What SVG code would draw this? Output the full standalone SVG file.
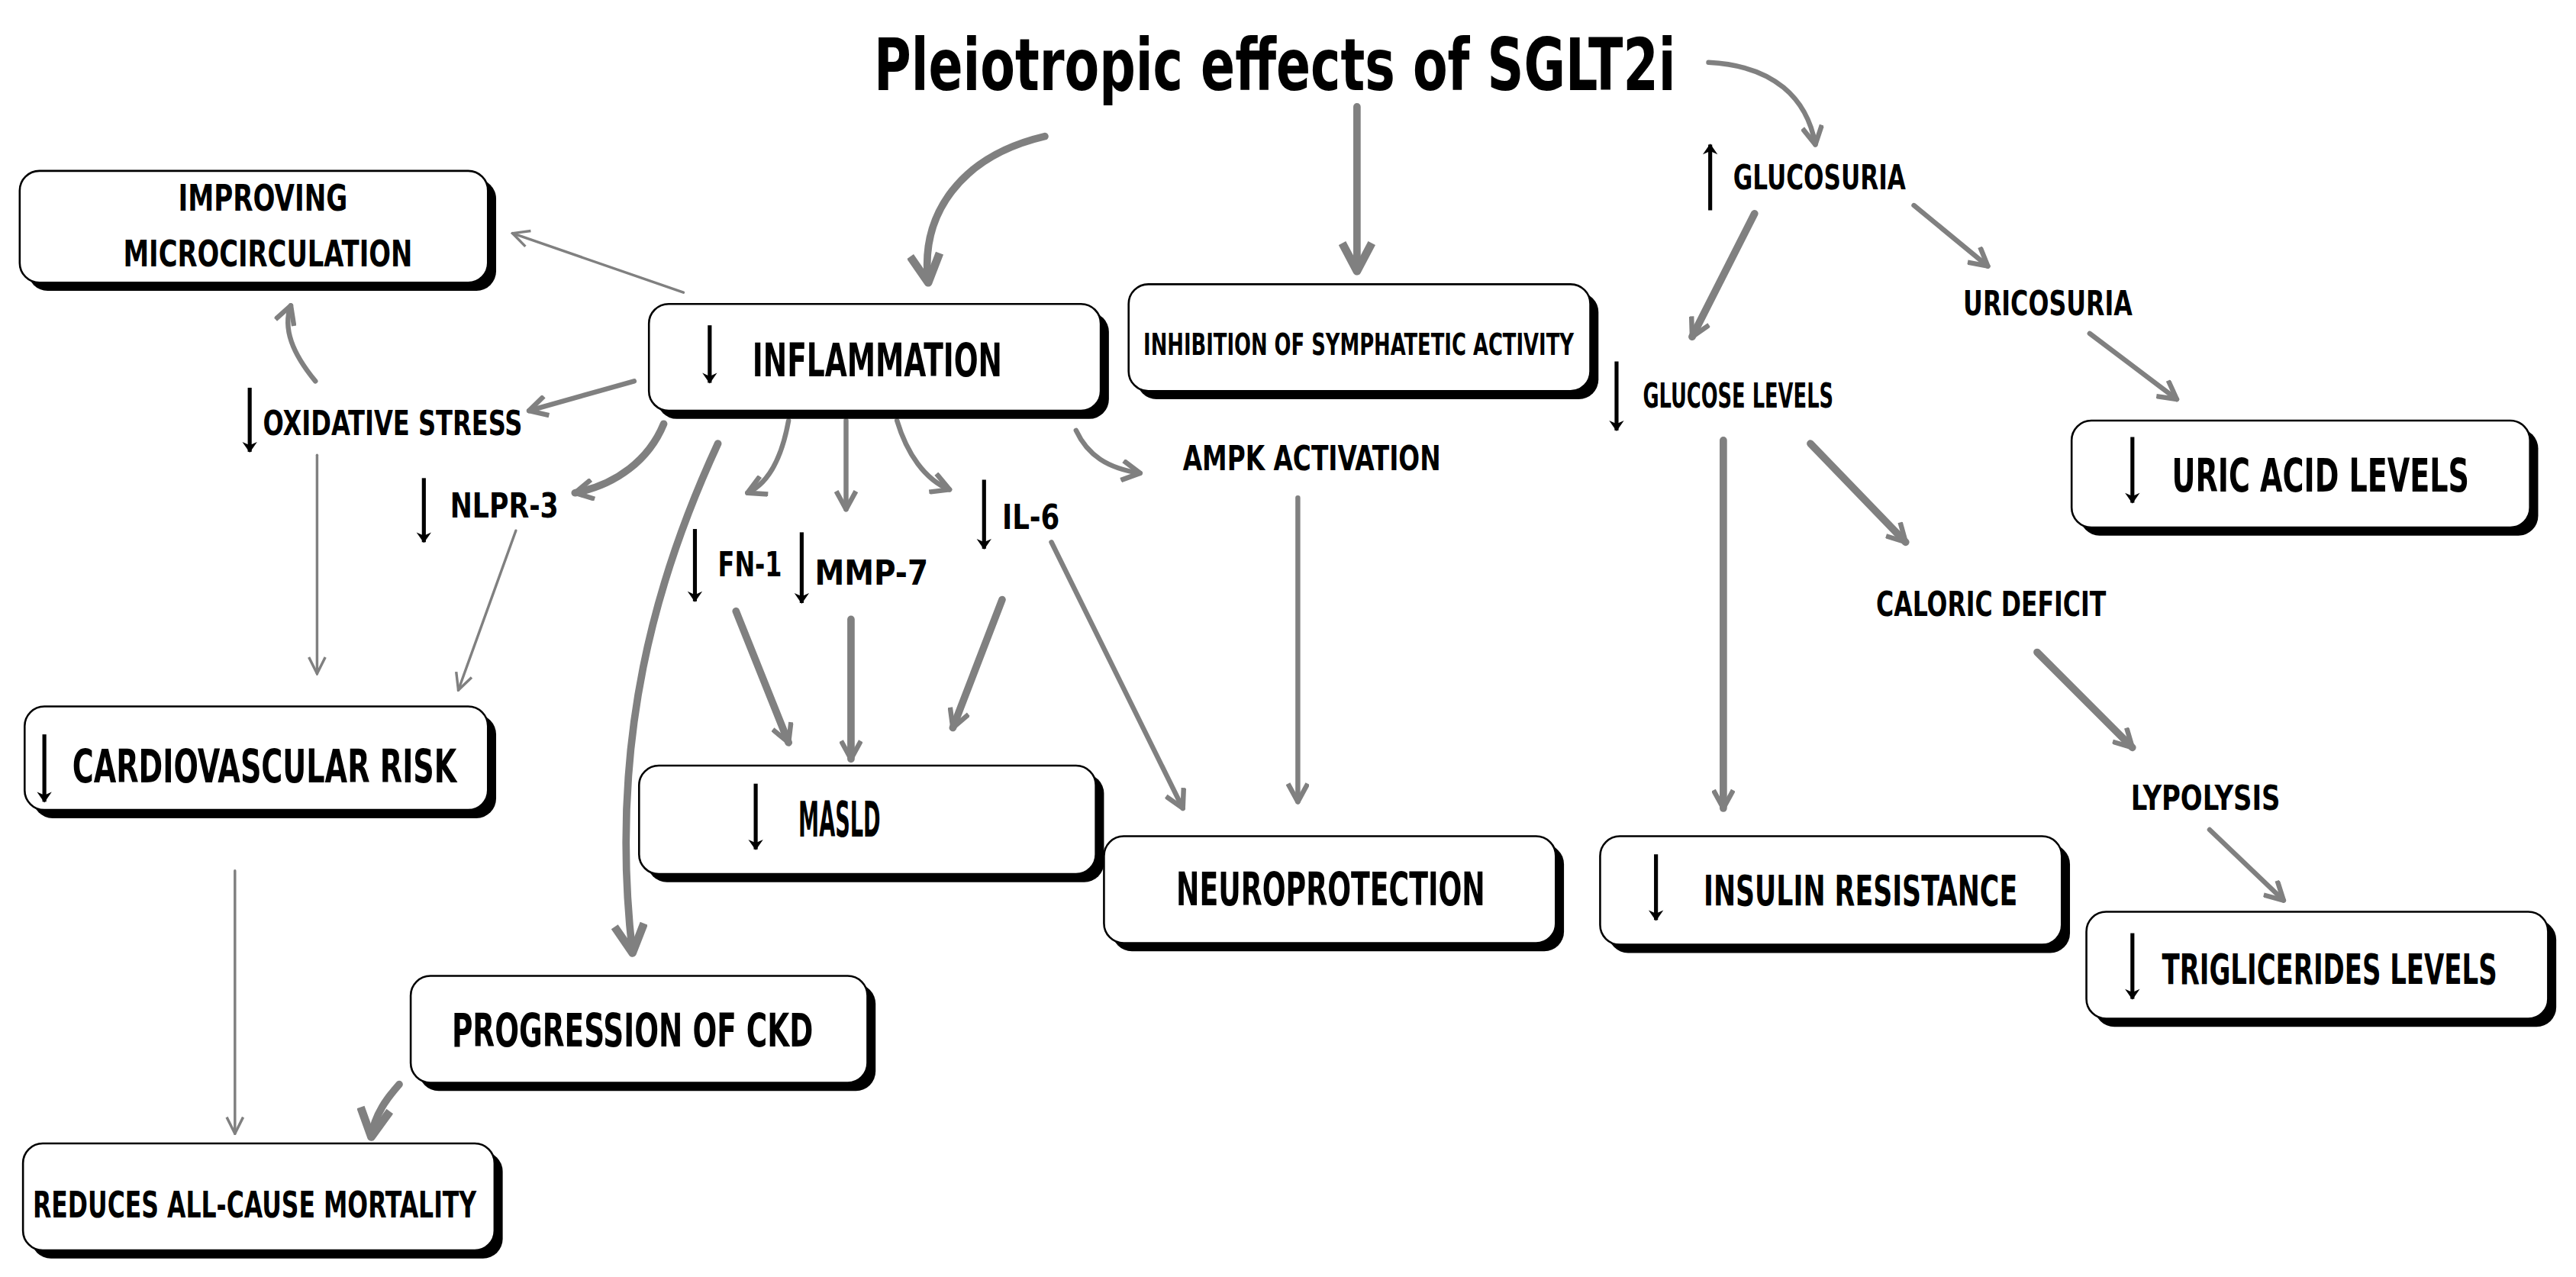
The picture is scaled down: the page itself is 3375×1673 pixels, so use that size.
<svg xmlns="http://www.w3.org/2000/svg" width="3375" height="1673" viewBox="0 0 3375 1673">
<style>
.sh{fill:#000}
.bx{fill:#fff;stroke:#000;stroke-width:1.2}
.t{font-family:"DejaVu Sans Condensed","Liberation Sans",sans-serif;font-weight:bold;fill:#000}
.c{fill:none;stroke:#808080;stroke-linecap:round}
.w1{stroke-width:1.6}
.w2{stroke-width:3}
.w3{stroke-width:4.5}
.da{stroke:#000;stroke-width:2.4;fill:none}
</style>
<defs>
<marker id="a1" viewBox="0 0 12 12" refX="11" refY="6" markerWidth="12" markerHeight="12" markerUnits="userSpaceOnUse" orient="auto"><path d="M1,1 L11,6 L1,11" fill="none" stroke="#808080" stroke-width="1.6"/></marker>
<marker id="a2" viewBox="0 0 14 14" refX="12" refY="7" markerWidth="14" markerHeight="14" markerUnits="userSpaceOnUse" orient="auto"><path d="M1,1 L12,7 L1,13" fill="none" stroke="#808080" stroke-width="3" stroke-linejoin="round"/></marker>
<marker id="a3" viewBox="0 0 22 22" refX="19" refY="11" markerWidth="22" markerHeight="22" markerUnits="userSpaceOnUse" orient="auto"><path d="M2,2 L19,11 L2,20" fill="none" stroke="#808080" stroke-width="5" stroke-linejoin="round"/></marker>
<marker id="ak" viewBox="0 0 10 10" refX="5" refY="9" markerWidth="10" markerHeight="10" markerUnits="userSpaceOnUse" orient="0"><path d="M0.5,3 L5,9.5 L9.5,3 L5,5 Z" fill="#000"/></marker>
<marker id="aku" viewBox="0 0 10 10" refX="5" refY="1" markerWidth="10" markerHeight="10" markerUnits="userSpaceOnUse" orient="0"><path d="M0.5,7 L5,0.5 L9.5,7 L5,5 Z" fill="#000"/></marker>
</defs>
<rect width="3375" height="1673" fill="#fff"/>
<g transform="scale(2.1524)">
<g id="connectors">
<path class="c w3" marker-end="url(#a3)" d="M636,83 C585,95 560,130 565,172"/>
<path class="c w3" marker-end="url(#a3)" d="M826,65 L826,165"/>
<path class="c w2" marker-end="url(#a2)" d="M1040,38 C1080,40 1100,60 1105,88"/>
<path class="c w1" marker-end="url(#a1)" d="M416,178 L312,142"/>
<path class="c w2" marker-end="url(#a2)" d="M386,232 L322,250"/>
<path class="c w2" marker-end="url(#a2)" d="M192,232 C178,215 172,200 177,186"/>
<path class="c w1" marker-end="url(#a1)" d="M193,277 L193,410"/>
<path class="c w1" marker-end="url(#a1)" d="M314,323 L279,420"/>
<path class="c w3" marker-end="url(#a2)" d="M404,258 C395,280 375,295 350,300"/>
<path class="c w3" marker-end="url(#a3)" d="M437,270 C400,350 370,450 385,580"/>
<path class="c w2" marker-end="url(#a2)" d="M480,256 C476,278 468,294 455,300"/>
<path class="c w2" marker-end="url(#a2)" d="M515,256 L515,310"/>
<path class="c w2" marker-end="url(#a2)" d="M546,256 C552,276 563,292 578,298"/>
<path class="c w2" marker-end="url(#a2)" d="M655,262 C662,277 674,285 694,288"/>
<path class="c w3" marker-end="url(#a2)" d="M448,372 L480,452"/>
<path class="c w3" marker-end="url(#a2)" d="M518,377 L518,462"/>
<path class="c w3" marker-end="url(#a2)" d="M610,365 L580,443"/>
<path class="c w2" marker-end="url(#a2)" d="M640,330 L720,492"/>
<path class="c w2" marker-end="url(#a2)" d="M790,303 L790,488"/>
<path class="c w3" marker-end="url(#a2)" d="M1068,130 L1030,205"/>
<path class="c w2" marker-end="url(#a2)" d="M1165,125 L1210,162"/>
<path class="c w2" marker-end="url(#a2)" d="M1272,203 L1325,243"/>
<path class="c w3" marker-end="url(#a2)" d="M1049,268 L1049,492"/>
<path class="c w3" marker-end="url(#a2)" d="M1102,270 L1160,330"/>
<path class="c w3" marker-end="url(#a2)" d="M1240,397 L1298,455"/>
<path class="c w2" marker-end="url(#a2)" d="M1345,505 L1390,548"/>
<path class="c w1" marker-end="url(#a1)" d="M143,530 L143,690"/>
<path class="c w3" marker-end="url(#a3)" d="M243,660 C236,668 228,678 226,692"/>
</g>
<g id="title"><text class="t" x="776" y="55" font-size="44" text-anchor="middle" textLength="488" lengthAdjust="spacingAndGlyphs">Pleiotropic effects of SGLT2i</text></g>
<g id="improving"><rect class="sh" x="17" y="109" width="285" height="68" rx="12"/><rect class="bx" x="12" y="104" width="285" height="68" rx="12"/>
<text class="t" x="160" y="128" font-size="22" text-anchor="middle" textLength="103" lengthAdjust="spacingAndGlyphs">IMPROVING</text>
<text class="t" x="163" y="162" font-size="22" text-anchor="middle" textLength="176" lengthAdjust="spacingAndGlyphs">MICROCIRCULATION</text></g>
<g id="inflammation"><rect class="sh" x="400" y="190" width="275" height="65" rx="12"/><rect class="bx" x="395" y="185" width="275" height="65" rx="12"/>
<line class="da" x1="432" y1="198" x2="432" y2="233" marker-end="url(#ak)"/>
<text class="t" x="458" y="229" font-size="28" textLength="152" lengthAdjust="spacingAndGlyphs">INFLAMMATION</text></g>
<g id="inhibition"><rect class="sh" x="692" y="178" width="281" height="65" rx="12"/><rect class="bx" x="687" y="173" width="281" height="65" rx="12"/>
<text class="t" x="827" y="216" font-size="18" text-anchor="middle" textLength="262" lengthAdjust="spacingAndGlyphs">INHIBITION OF SYMPHATETIC ACTIVITY</text></g>
<g id="cvrisk"><rect class="sh" x="20" y="435" width="282" height="63" rx="12"/><rect class="bx" x="15" y="430" width="282" height="63" rx="12"/>
<line class="da" x1="27" y1="447" x2="27" y2="488" marker-end="url(#ak)"/>
<text class="t" x="44" y="476" font-size="28" textLength="234" lengthAdjust="spacingAndGlyphs">CARDIOVASCULAR RISK</text></g>
<g id="masld"><rect class="sh" x="394" y="471" width="278" height="66" rx="12"/><rect class="bx" x="389" y="466" width="278" height="66" rx="12"/>
<line class="da" x1="460" y1="477" x2="460" y2="517" marker-end="url(#ak)"/>
<text class="t" x="486" y="509" font-size="30" textLength="50" lengthAdjust="spacingAndGlyphs">MASLD</text></g>
<g id="neuro"><rect class="sh" x="677" y="514" width="275" height="65" rx="12"/><rect class="bx" x="672" y="509" width="275" height="65" rx="12"/>
<text class="t" x="810" y="551" font-size="28" text-anchor="middle" textLength="188" lengthAdjust="spacingAndGlyphs">NEUROPROTECTION</text></g>
<g id="ckd"><rect class="sh" x="255" y="599" width="278" height="65" rx="12"/><rect class="bx" x="250" y="594" width="278" height="65" rx="12"/>
<text class="t" x="385" y="637" font-size="28" text-anchor="middle" textLength="220" lengthAdjust="spacingAndGlyphs">PROGRESSION OF CKD</text></g>
<g id="mortality"><rect class="sh" x="19" y="701" width="287" height="65" rx="12"/><rect class="bx" x="14" y="696" width="287" height="65" rx="12"/>
<text class="t" x="155" y="741" font-size="22" text-anchor="middle" textLength="270" lengthAdjust="spacingAndGlyphs">REDUCES ALL-CAUSE MORTALITY</text></g>
<g id="insulin"><rect class="sh" x="979" y="514" width="281" height="66" rx="12"/><rect class="bx" x="974" y="509" width="281" height="66" rx="12"/>
<line class="da" x1="1008" y1="520" x2="1008" y2="560" marker-end="url(#ak)"/>
<text class="t" x="1037" y="551" font-size="26" textLength="191" lengthAdjust="spacingAndGlyphs">INSULIN RESISTANCE</text></g>
<g id="uric"><rect class="sh" x="1266" y="261" width="279" height="65" rx="12"/><rect class="bx" x="1261" y="256" width="279" height="65" rx="12"/>
<line class="da" x1="1298" y1="266" x2="1298" y2="306" marker-end="url(#ak)"/>
<text class="t" x="1322" y="299" font-size="28" textLength="181" lengthAdjust="spacingAndGlyphs">URIC ACID LEVELS</text></g>
<g id="trig"><rect class="sh" x="1275" y="560" width="281" height="65" rx="12"/><rect class="bx" x="1270" y="555" width="281" height="65" rx="12"/>
<line class="da" x1="1298" y1="568" x2="1298" y2="608" marker-end="url(#ak)"/>
<text class="t" x="1316" y="599" font-size="26" textLength="204" lengthAdjust="spacingAndGlyphs">TRIGLICERIDES LEVELS</text></g>
<g id="labels">
<line class="da" x1="1041" y1="88" x2="1041" y2="128" marker-start="url(#aku)"/>
<text class="t" x="1055" y="115" font-size="21" textLength="105" lengthAdjust="spacingAndGlyphs">GLUCOSURIA</text>
<text class="t" x="1195" y="192" font-size="21" textLength="103" lengthAdjust="spacingAndGlyphs">URICOSURIA</text>
<line class="da" x1="984" y1="220" x2="984" y2="262" marker-end="url(#ak)"/>
<text class="t" x="1000" y="248" font-size="21" textLength="116" lengthAdjust="spacingAndGlyphs">GLUCOSE LEVELS</text>
<text class="t" x="1142" y="375" font-size="21" textLength="140" lengthAdjust="spacingAndGlyphs">CALORIC DEFICIT</text>
<text class="t" x="1297" y="493" font-size="21" textLength="91" lengthAdjust="spacingAndGlyphs">LYPOLYSIS</text>
<text class="t" x="720" y="286" font-size="21" textLength="157" lengthAdjust="spacingAndGlyphs">AMPK ACTIVATION</text>
<line class="da" x1="152" y1="236" x2="152" y2="275" marker-end="url(#ak)"/>
<text class="t" x="160" y="265" font-size="21" textLength="158" lengthAdjust="spacingAndGlyphs">OXIDATIVE STRESS</text>
<line class="da" x1="258" y1="291" x2="258" y2="330" marker-end="url(#ak)"/>
<text class="t" x="274" y="315" font-size="21" textLength="66" lengthAdjust="spacingAndGlyphs">NLPR-3</text>
<line class="da" x1="423" y1="322" x2="423" y2="366" marker-end="url(#ak)"/>
<text class="t" x="437" y="351" font-size="21" textLength="39" lengthAdjust="spacingAndGlyphs">FN-1</text>
<line class="da" x1="488" y1="324" x2="488" y2="367" marker-end="url(#ak)"/>
<text class="t" x="496" y="356" font-size="21" textLength="69" lengthAdjust="spacingAndGlyphs">MMP-7</text>
<line class="da" x1="599" y1="292" x2="599" y2="334" marker-end="url(#ak)"/>
<text class="t" x="610" y="322" font-size="21" textLength="35" lengthAdjust="spacingAndGlyphs">IL-6</text>
</g>
</g>
</svg>
